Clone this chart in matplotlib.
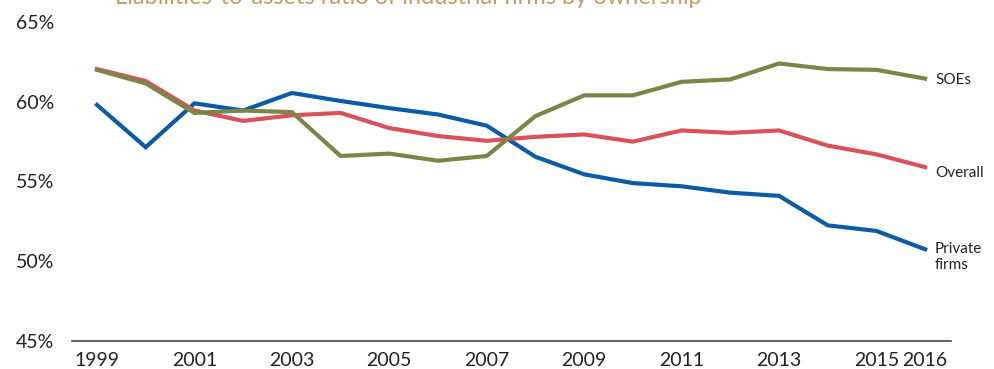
import matplotlib
matplotlib.use("Agg")
import matplotlib.pyplot as plt

plt.rcParams['font.family'] = ['Lato', 'DejaVu Sans']

years = list(range(1999, 2017))
soes = [62.0, 61.15, 59.3, 59.45, 59.35, 56.6, 56.75, 56.3, 56.6, 59.1,
        60.4, 60.4, 61.25, 61.4, 62.4, 62.05, 62.0, 61.45]
overall = [62.05, 61.3, 59.45, 58.8, 59.15, 59.3, 58.35, 57.85, 57.55, 57.8,
           57.95, 57.5, 58.2, 58.05, 58.2, 57.25, 56.7, 55.9]
private = [59.8, 57.15, 59.9, 59.45, 60.55, 60.05, 59.6, 59.2, 58.5, 56.55,
           55.45, 54.9, 54.7, 54.3, 54.1, 52.25, 51.9, 50.75]
xtick_years = [1999, 2001, 2003, 2005, 2007, 2009, 2011, 2013, 2015, 2016]
ytick_vals = [45, 50, 55, 60, 65]
title = "Liabilities-to-assets ratio of industrial firms by ownership"

c_soe = "#7b8548"
c_all = "#d85257"
c_priv = "#0a5ca8"

fig = plt.figure(figsize=(9.95, 3.69), dpi=100)
ax = fig.add_axes([72 / 995, 28 / 369, (951 - 72) / 995, (341 - 22) / 369])

ax.plot(years, private, color=c_priv, lw=3.0, solid_joinstyle='miter')
ax.plot(years, overall, color=c_all, lw=3.0, solid_joinstyle='miter')
ax.plot(years, soes, color=c_soe, lw=3.0, solid_joinstyle='miter')

ax.set_xlim(1998.487, 2016.53)
ax.set_ylim(45, 65)
ax.set_xticks(xtick_years)
ax.set_xticklabels([str(y) for y in xtick_years])
ax.set_yticks(ytick_vals)
ax.set_yticklabels([f"{v}%" for v in ytick_vals])
ax.tick_params(axis='both', length=0, labelsize=14, colors="#222222")
ax.tick_params(axis='y', pad=13)
ax.tick_params(axis='x', pad=8)

for s in ['top', 'right', 'left']:
    ax.spines[s].set_visible(False)
ax.spines['bottom'].set_color("#333333")
ax.spines['bottom'].set_linewidth(1.1)

# Series labels at the right end of each line
lbl = dict(fontsize=11, color="#222222", ha='left', va='center')
ax.text(935 / 995, (369 - 80) / 369, "SOEs", transform=fig.transFigure, **lbl)
ax.text(935 / 995, (369 - 173) / 369, "Overall", transform=fig.transFigure, **lbl)
ax.text(935 / 995, (369 - 257) / 369, "Private\nfirms", transform=fig.transFigure,
        linespacing=1.2, **lbl)

# Title sits partly above the top edge of the figure
fig.text(408 / 995, (369 - 4) / 369, title, ha='center', va='baseline',
         fontsize=17, color="#c49c64")

fig.savefig("out.png", dpi=100)
